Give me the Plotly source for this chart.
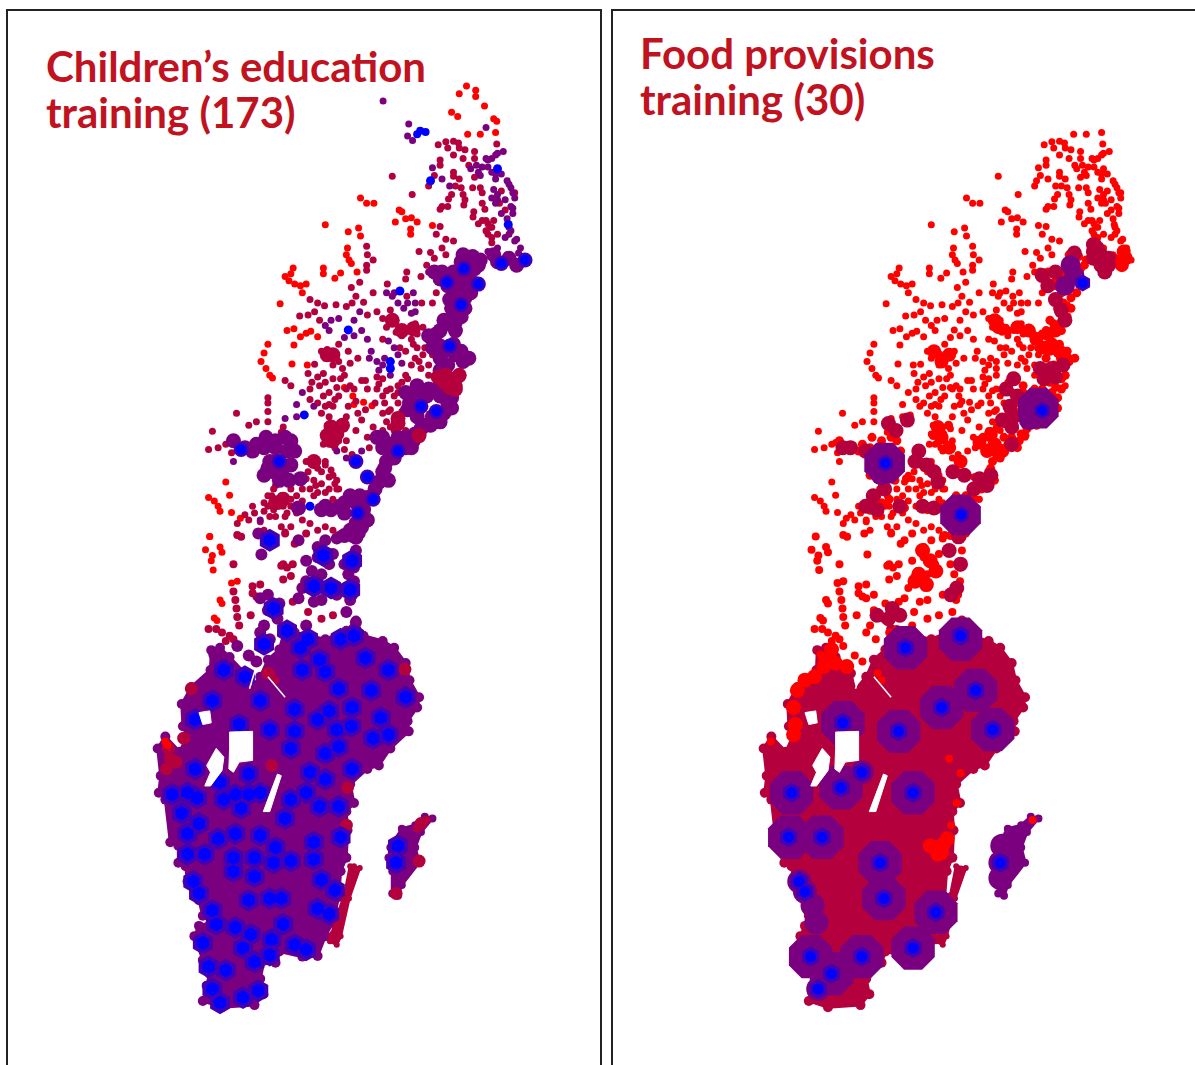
import plotly.graph_objects as go
from plotly.subplots import make_subplots

#all point lists are in the units of the zoomed crops they were read from,
#the sheet tuples below turn crop units back into page pixels (x scale, x shift, y scale, y shift)
EDU_N = (1/2.613, 0, 1/2.904, 0)
EDU_S = (1/2.613, 0, 1/2.93, 530)
FOOD_N = (1/2.635, 600, 1/2.904, 0)
FOOD_S = (1/2.635, 600, 1/2.93, 530)
#same towns, right hand map sits this many pixels along
MAP_SHIFT = 606

RED = '#ff0000'
CRIMSON = '#b4003c'
PURPLE = '#7a0080'
INDIGO = '#4300b4'
BLUE = '#0000ff'

titles_edu = ["Children\u2019s education", "training (173)"]
titles_food = ["Food provisions", "training (30)"]

#outline of the mainland, then Oland, then Gotland (lower crop)
mainland = [(552,352),(575,345),(600,372),(640,420),(650,470),(680,430),(700,380),(730,350),(745,290),
            (770,300),(850,320),(905,295),(930,265),(950,310),(1000,325),(1030,345),(1060,390),(1070,440),
            (1095,490),(1090,520),(1065,560),(1068,590),(1020,640),(990,690),(960,700),(915,745),(925,800),
            (905,825),(908,880),(905,960),(890,1000),(885,1075),(870,1150),(850,1190),(830,1248),(790,1250),
            (730,1235),(720,1268),(690,1262),(680,1315),(688,1360),(665,1392),(580,1398),(530,1380),(540,1335),
            (548,1300),(530,1260),(508,1190),(520,1160),(550,1150),(530,1130),(520,1085),(490,1030),(485,985),
            (466,975),(466,925),(445,915),(432,790),(415,770),(420,720),(412,640),(432,605),(470,650),(490,600),
            (478,575),(475,510),(500,460),(550,410)]
oland = [(940,990),(915,985),(900,1070),(875,1150),(862,1205),(880,1215),(890,1190),(912,1080)]
gotland = [(1130,845),(1110,840),(1085,865),(1050,875),(1020,930),(1015,960),(1025,1000),(1025,1065),
           (1040,1072),(1050,1040),(1095,975),(1085,930),(1100,885)]

#lakes and slits left white
lake_vanern = [(600,592),(660,590),(660,675),(625,680),(610,710),(598,700),(600,640)]
lake_vanern_w = [(565,640),(585,665),(580,705),(550,750),(535,750),(550,710),(540,690)]
lake_vattern = [(725,715),(735,720),(705,825),(688,825)]
lake_small = [(520,535),(548,530),(552,565),(530,570)]
river_a = [(652,465),(668,405)]
river_b = [(700,430),(745,490)]
river_c = [(880,105),(895,140)]

#extra dots only on the left map
far_north_red = [(1219,250),(1200,272),(1243,262),(1243,280),(1266,308),(1180,326),(1196,338),(1290,345),(1298,352)]
far_north_purple = [(1001,293),(1068,360),(1065,395),(1078,408),(1270,370)]
far_north_blue = [(1098,380),(1112,383),(1090,390)]

#settlement dots, coloured for the education map, all red on the food map
dots_red = [(1222,390),(1255,390),(1295,385),(942,575),(958,590),(977,590),(1043,610),(1050,615),(1033,645),
            (1060,635),(1075,632),(1090,645),(1073,665),(1073,680),(1130,655),(850,653),(910,673),(937,662),
            (942,685),(908,720),(905,740),(912,755),(918,765),(766,778),(745,803),(760,795),(755,815),(770,825),
            (785,830),(800,825),(790,850),(845,778),(845,795),(890,793),(875,808),(933,790),(732,882),(750,960),
            (768,955),(785,978),(800,968),(812,962),(768,1002),(830,978),(700,1000),(690,1025),(682,1050),
            (695,1070),(705,1090),(712,1098),(763,1057),(803,1060),(900,1125),(922,1150),(925,1175),(950,1168),
            (972,1178),(545,1445),(560,1455),(570,1470),(575,1485),(600,1438),(590,1400),(605,1488),(628,1505),(548,1558)]
dots_crimson = [(1298,418),(1145,420),(1165,412),(1185,410),(1198,415),(1185,450),(1215,435),(1240,440),(1240,460),
                (1225,480),(1150,465),(1150,480),(1185,500),(1185,512),(1205,545),(1180,565),(1172,578),(1210,565),
                (1212,595),(1155,600),(1150,608),(1235,545),(1255,545),(1260,560),(1238,615),(1236,630),(1267,608),
                (1270,640),(1280,660),(1270,670),(1285,690),(1285,705),(1345,560),(1310,555),(1025,512),(1077,565),
                (1140,680),(1150,658),(958,715),(960,740),(975,755),(958,770),(958,785),(822,1058),(810,870),(830,880),
                (848,888),(878,885),(783,918),(805,915),(822,905),(835,930),(940,820),(918,835),(930,860),(950,878),
                (975,850),(1012,825),(1063,790),(1060,810),(1100,803),(1095,730),(1125,733),(1135,750),(1165,695),
                (1155,720),(1165,740),(1115,770),(1130,795),(1140,850),(1102,880),(1130,880),(1063,860),(960,915),
                (985,905),(1000,925),(1020,900),(1030,930),(1045,950),(1010,950),(1065,960),(1085,940),(1105,950),
                (1115,975),(1090,970),(1050,975),(1035,965),(1075,985),(1000,985),(840,1020),(855,1015),(870,1030),
                (850,1040),(885,1050),(870,1060),(895,1070),(885,1000),(910,1020),(915,1055),(935,1040),(900,1090),
                (805,1085),(815,1110),(835,1120),(850,1110),(860,1140),(880,1125),(845,1150),(810,1130),(745,1105),
                (760,1120),(700,1155),(700,1170),(700,1195),(618,1200),(650,1235),(670,1225),(700,1225),(740,1240),
                (735,1255),(555,1252),(545,1305),(570,1300),(590,1290),(605,1315),(850,1180),(860,1210),(855,1235),
                (880,1240),(900,1245),(870,1265),(885,1280),(860,1290),(905,1210),(945,1220),(930,1250),(1000,1200),
                (1040,1140),(1000,1150),(1010,1225),(1040,1220),(1060,1250),(1020,1240),(960,1270),(965,1300),
                (810,1340),(830,1360),(850,1340),(870,1380),(880,1420),(800,1390),(790,1420),(820,1440),(720,1410),
                (710,1440),(700,1470),(730,1470),(745,1500),(760,1450),(880,1460),(640,1495),(665,1490),(680,1515),
                (735,1530),(745,1545),(810,1520),(830,1540),(880,1555),(1095,1270),(1040,1120),(990,1115),(955,1105),
                (1105,1030),(1120,1060),(1075,1060),(1060,1090),(1060,1020),(1085,1040),(1100,1070),(1065,1100),
                (1000,1100),(985,1130),(1005,1170),(1040,1170),(1050,1195),(1015,1195),(960,1130),(945,1105),(925,1130),
                (930,1165),(910,1180),(870,1180),(885,1150),(1260,640),(1275,650),(1285,660),(1275,680),(715,1420),
                (700,1440),(690,1460),(715,1480),(740,1470),(750,1490),(720,1500),(775,1440),(790,1455),(830,1340),
                (850,1350),(865,1365),(880,1395),(885,1420),(800,1340),(790,1380),(820,1395),(840,1405),(860,1420),
                (810,1420),(830,1430),(920,880),(905,890),(1080,1000),(1045,1010),(1200,1120),(1185,700),
                (830,1095),(845,1085),(870,1100),(890,1100),(905,1130),(875,1160),(860,1175),(915,1120),(850,1260),
                (845,1290),(875,1300),(905,1280),(900,1305),(920,1320),(830,1170),(840,1200),(810,1160),(1010,1135),
                (1030,1150),(1020,1190),(980,1170),(955,1190),(935,1200),(1000,1250),(975,1240),(1030,1250),(820,1350),
                (840,1370),(860,1385),(875,1405),(805,1370),(825,1410),(850,1430),(870,1450),(780,1400),(760,1420),
                (760,1470),(775,1490),(735,1440),(705,1500),(690,1485),(660,1470),(650,1510),(620,1520),(690,1540),
                (760,1530),(790,1510),(850,1530),(870,1540),(1130,1030),(1110,1010),(1090,1010),(1095,1050),(1120,1090),
                (1050,1110),(1020,1130),(985,1095),(1240,515),(1200,520),(1170,600),(1215,580),(1290,640),(1300,680),
                (1250,650),(1260,590),(1305,590),(1320,610),(1210,460),(1200,430),(1170,430),(1135,510),(1120,540),(1190,540)]
dots_purple = [(1130,487),(1155,520),(1175,540),(1255,510),(1270,460),(1295,450),(1315,440),(1260,485),(1295,520),
               (1330,535),(1340,560),(1290,550),(1295,590),(1335,600),(1340,620),(1310,620),(1330,680),(1350,695),
               (1300,720),(1360,720),(1275,730),(1325,740),(865,930),(885,925),(925,930),(940,905),(945,960),(960,985),
               (1065,880),(1075,910),(1085,905),(1015,990),(1030,1010),(1005,1040),(1040,1030),(985,1050),(965,1040),
               (990,1075),(790,1140),(775,1175),(820,1180),(775,1210),(745,1215),(600,1285),(610,1340),(680,1510),
               (880,1310),(905,1330),(945,1310),(1120,790),(1140,790),(1030,850),(1080,850),(1300,445),(1285,460),
               (1275,465),(1245,480),(1230,490),(1250,500),(1275,485),(1285,500),(1295,505),(1310,505),(1325,525),
               (1335,545),(1345,575),(1300,565),(1285,575),(1320,580),(1300,580),(1340,605),(1325,635),(1330,660),
               (1335,670),(1320,690),(1345,700),(1355,735),(1365,745),(1345,775),(1320,760),(1020,1090),(1000,1060),
               (1050,1055),(970,1020),(925,975),(900,980),(860,960),(850,945),(1040,880),(1055,895),(1010,850),(1025,860),
               (1085,880)]
dots_blue = [(1125,525),(1300,490),(1328,652),(910,958),(1045,845),(1020,1050),(795,1205),(810,1470),(975,1450),(1020,1070)]

south_dots_red = [(548,19),(537,58),(575,50),(555,75),(552,90),(580,65),(557,117),(575,205),(580,215),(560,258),(567,265),(605,155),(620,150)]
south_dots_crimson = [(610,180),(615,205),(618,230),(620,255),(625,280),(660,165),(680,160),(660,185),(670,195),(655,250),
                      (545,290),(565,290),(580,300),(590,325),(610,320),(600,310),(610,100),(620,15),(630,20),(740,100),
                      (765,100),(750,110),(740,145),(760,135),(735,105),(800,10),(745,10),(770,40),(840,260),(870,250),
                      (805,240),(765,210),(885,15),(710,420),(720,440)]
south_dots_purple = [(683,72),(675,10),(800,90),(815,120),(840,130),(780,30),(800,150),(700,235),(680,200),(690,280),(680,300),
                     (705,320),(740,300),(760,290),(800,280),(780,200),(650,368),(670,385),(560,365),(620,340),
                     (830,50),(870,70),(900,100),(930,60),(920,20),(880,25),(940,10),(905,240),(915,205),(930,270),(840,205),(820,210),
                     (850,30),(830,80),(860,100),(910,130),(925,110),(925,150),(790,170),(880,190),(920,190),(700,190),(730,215),(725,260)]

#dense parts of the education map, drawn with bigger dots
edu_band_purple = [(1210,740),(1235,745),(1255,755),(1220,765),(1185,790),(1210,830),(1190,850),(1230,850),(1175,870),
                   (1215,865),(1185,910),(1205,920),(1170,940),(1190,960),(1150,960),(1130,985),(1160,1020),(1190,1030),
                   (1210,1050),(1170,1060),(1150,1040),(1090,1120),(1120,1130),(1150,1150),(1170,1170),(1080,1160),
                   (1065,1190),(1090,1210),(1130,1210),(1110,1235),(1080,1280),(1050,1290),(1020,1290),(1000,1270),
                   (1040,1270),(1010,1340),(1000,1370),(690,1300),(720,1300),(750,1310),(720,1340),(700,1360),(740,1360),
                   (730,1395),(760,1350),(640,1300),(610,1280),(930,1460),(900,1490),(930,1520),(950,1480),(900,1460),
                   (850,1470),(1300,760),(1330,750),(1350,770),(1290,740),(1205,760),(1200,800),(1180,810),(1170,830),
                   (1155,790),(1135,790),(1150,810),(1195,830),(1240,780),(1250,770),(1225,800),(1235,820),(1195,880),
                   (1180,895),(1160,930),(1215,895),(1190,935),(1140,970),(1120,975),(1150,1005),(1130,1010),(1185,1000),
                   (1205,1020),(1225,1040),(1150,1075),(1060,1140),(1070,1170),(1090,1140),(1115,1150),(1140,1130),
                   (1165,1140),(1180,1155),(1180,1185),(1160,1200),(1150,1225),(1125,1235),(1100,1245),(1085,1260),
                   (1060,1270),(1075,1300),(1060,1300),(1030,1330),(1020,1320),(1000,1300),(985,1270),(1005,1360),
                   (990,1400),(1015,1395),(980,1420),(960,1445),(940,1440),(915,1440),(890,1470),(865,1480),(960,1510),
                   (945,1530),(915,1540),(930,1560),(900,1555),(780,1475),(840,1480),(670,1290),(660,1310),(695,1270),
                   (720,1280),(745,1270),(760,1280),(770,1310),(705,1340),(690,1380),(715,1370),(755,1395),(785,1390)]
edu_band_crimson = [(1165,1090),(1190,1100),(1145,1095),(1175,1125),(1200,1090),(1160,1110),(1190,1130),(1040,1230),(1050,960),
                    (1080,955),(1025,930),(865,1240),(880,1260),(895,1235),(870,1280),(855,1265),(870,1030),(855,1030),(740,1450),
                    (720,1460),(820,1340),(1095,1265),(1040,1215)]
edu_band_blue = [(1212,780),(1168,820),(1250,825),(1205,885),(1175,1005),(1100,1180),(1140,1195),(1040,1310),(930,1340),
                 (960,1385),(975,1450),(935,1490),(1310,765),(1372,755),(630,1305),(730,1340)]

#blue towns on the south of the education map (lower crop)
edu_south_blue = [(705,30),(845,75),(920,90),(820,165),(865,170),(915,175),(715,230),(750,295),(925,310),(890,320),(805,320),
                  (785,345),(690,335),(555,500),(510,555),(625,570),(705,585),(770,590),(770,525),(680,500),(790,410),(850,415),
                  (835,380),(955,375),(1015,410),(885,465),(970,470),(1060,490),(920,520),(860,530),(830,555),(880,585),(918,575),
                  (995,550),(1015,600),(975,610),(760,640),(850,655),(885,635),(920,700),(810,710),(850,730),(800,770),(760,790),
                  (835,810),(885,810),(890,900),(745,845),(680,895),(720,930),(760,970),(715,975),(665,960),(610,960),(615,890),
                  (570,905),(535,950),(490,950),(490,890),(475,830),(520,860),(450,775),(490,770),(515,785),(575,740),(585,790),
                  (615,775),(650,775),(680,770),(630,815),(650,715),(510,700),(585,410),(640,430),(820,915),(820,965),(665,1015),
                  (610,1000),(505,1030),(520,1065),(840,1025),(875,1055),(650,1085),(705,1080),(735,1080),(830,1110),(860,1125),
                  (555,1115),(565,1155),(615,1165),(655,1185),(740,1155),(710,1200),(635,1225),(705,1245),(770,1215),(800,1230),
                  (665,1265),(530,1210),(545,1280),(590,1290),(555,1345),(575,1385),(635,1370),(675,1350),(1040,925),(1035,975)]
edu_south_crimson = [(440,640),(445,670),(435,700),(460,680),(480,610),(500,465),(710,690),(700,420),(1058,408),(908,755),(905,865),(875,1190),(1035,1065),(1095,970),(1100,860)]
edu_south_red = [(432,620),(438,630)]
edu_oland_crimson = [(925,1000),(918,1030),(908,1060),(925,985)]
edu_gotland_crimson = [(1115,850),(1100,865),(1090,875)]

#food map
food_purple = [(750,1345),(1155,1185),(950,1495)]
food_purple_small = [(1250,800),(1225,830),(1240,770),(1130,1220),(740,1380)]
food_core = [(752,1345),(1165,1192),(952,1495),(1272,822)]
food_crimson = [(1200,790),(1165,800),(1180,830),(1200,870),(1215,900),(1225,930),(1300,710),(1320,740),(1340,770),(1250,735),
                (1330,790),(1300,730),(1310,720),(1300,750),(1320,770),(1340,750),(1190,1070),(1220,1060),(1170,1100),(1200,1095),
                (1160,1070),(1090,1100),(1070,1130),(1080,1180),(1085,1240),(1085,1290),(1060,1220),(1100,1150),(1090,1210),(660,1300),
                (640,1300),(700,1310),(760,1230),(810,1220),(780,1250),(840,1310),(720,1440),(750,1420),(730,1480),(790,1470),
                (860,1350),(880,1370),(890,1400),(960,1380),(1000,1390),(1020,1410),(930,1370),(1030,1380),(985,1420),(700,1470),
                (830,1340),(850,1470),(880,1475)]
food_red = [(1385,750),(1380,730),(1375,770),(1190,1000),(1210,1020),(1180,970),(1150,985),(1230,1045),(1130,960),(1050,950),
            (1000,1285),(1040,1290),(1030,1260),(1060,1310),(1020,1310),(890,1240),(900,1270),(920,1300),(950,1340),(880,1020),
            (1040,930),(1100,950),(1200,960),(1170,1010),(1220,1040),(920,1030),(900,1050)]
#lower crop
food_south_crimson = [(920,60),(950,100),(925,190),(940,170),(945,20),(770,230),(790,250),(730,250),(760,260)]
food_south_red = [(850,60),(870,90),(840,130),(860,160),(885,120),(830,150),(520,470),(510,520),(515,570),(510,600),(540,440),(565,430),
                  (595,380),(590,400),(620,390),(650,400),(610,350),(880,930),(905,920),(890,950),(870,925),(900,945),(915,905)]
food_south_red_small = [(450,620),(920,670),(950,712),(940,800),(925,865),(1140,850)]
food_south_big = [(640,565),(787,590),(805,345),(990,470),(900,520),(1035,585),(635,755),(505,770),(825,770),(500,900),(585,900),
                  (738,975),(748,1080),(885,1120),(825,1225),(555,1250),(690,1250),(610,1300),(950,320)]
food_south_mid = [(690,710),(575,1345),(525,1030),(540,1060),(560,1100),(1060,925),(1055,975),(1055,1020),(570,1150)]
food_south_core = [(640,565),(787,590),(805,345),(950,310),(990,470),(900,520),(1035,585),(635,755),(505,770),(690,710),(825,770),
                   (497,900),(585,900),(738,975),(748,1080),(885,1120),(825,1225),(555,1250),(690,1250),(610,1300),(575,1345),
                   (525,1030),(540,1060),(1055,975)]


def to_page(pts, sheet, shift=0):
    xs = [p[0]*sheet[0]+sheet[1]+shift for p in pts]
    ys = [p[1]*sheet[2]+sheet[3] for p in pts]
    return xs, ys


def add_dots(fig, pts, color, size, col, sheet, shift=0, symbol='circle'):
    xs, ys = to_page(pts, sheet, shift)
    fig.add_trace(go.Scatter(x=xs, y=ys, mode='markers',
                             marker=dict(color=color, size=size, symbol=symbol, line=dict(width=0)),
                             hoverinfo='skip', showlegend=False), row=1, col=col)


def add_poly(fig, pts, color, col, sheet, shift=0, lw=3):
    xs, ys = to_page(pts + pts[:1], sheet, shift)
    fig.add_trace(go.Scatter(x=xs, y=ys, mode='lines', fill='toself', fillcolor=color,
                             line=dict(color=color, width=lw), hoverinfo='skip', showlegend=False), row=1, col=col)


def add_lakes(fig, col, shift=0):
    for lake in [lake_vanern, lake_vanern_w, lake_vattern, lake_small]:
        add_poly(fig, lake, 'white', col, EDU_S, shift, lw=1)
    for r in [river_a, river_b, river_c]:
        xs, ys = to_page(r, EDU_S, shift)
        fig.add_trace(go.Scatter(x=xs, y=ys, mode='lines', line=dict(color='white', width=1.5),
                                 hoverinfo='skip', showlegend=False), row=1, col=col)


fig = make_subplots(rows=1, cols=2)

#left map
add_poly(fig, mainland, PURPLE, 1, EDU_S)
add_dots(fig, mainland, PURPLE, 10, 1, EDU_S)
add_poly(fig, oland, CRIMSON, 1, EDU_S)
add_dots(fig, oland, CRIMSON, 6, 1, EDU_S)
add_poly(fig, gotland, PURPLE, 1, EDU_S)
add_dots(fig, gotland, PURPLE, 8, 1, EDU_S)
for pts, c in [(far_north_red, RED), (far_north_purple, PURPLE), (dots_red, RED), (dots_crimson, CRIMSON), (dots_purple, PURPLE)]:
    add_dots(fig, pts, c, 7, 1, EDU_N)
add_dots(fig, south_dots_red, RED, 7, 1, EDU_S)
add_dots(fig, south_dots_crimson, CRIMSON, 8, 1, EDU_S)
add_dots(fig, south_dots_purple, PURPLE, 12, 1, EDU_S)
add_dots(fig, edu_band_purple, PURPLE, 15, 1, EDU_N)
add_dots(fig, edu_band_crimson, CRIMSON, 15, 1, EDU_N)
add_dots(fig, edu_south_crimson, CRIMSON, 13, 1, EDU_S)
add_dots(fig, edu_south_red, RED, 8, 1, EDU_S)
add_dots(fig, edu_oland_crimson, CRIMSON, 6, 1, EDU_S)
add_dots(fig, edu_gotland_crimson, CRIMSON, 8, 1, EDU_S)
add_dots(fig, edu_band_blue, INDIGO, 15, 1, EDU_N)
add_dots(fig, edu_south_blue, INDIGO, 23, 1, EDU_S, symbol='hexagon')
add_dots(fig, far_north_blue, BLUE, 8, 1, EDU_N)
add_dots(fig, dots_blue, BLUE, 9, 1, EDU_N)
add_dots(fig, edu_band_blue, BLUE, 10, 1, EDU_N)
add_dots(fig, edu_south_blue, BLUE, 14, 1, EDU_S, symbol='hexagon')
add_lakes(fig, 1)

#right map
add_poly(fig, mainland, CRIMSON, 2, EDU_S, MAP_SHIFT)
add_dots(fig, mainland, CRIMSON, 10, 2, EDU_S, MAP_SHIFT)
add_poly(fig, oland, CRIMSON, 2, EDU_S, MAP_SHIFT)
add_dots(fig, oland, CRIMSON, 6, 2, EDU_S, MAP_SHIFT)
add_poly(fig, gotland, PURPLE, 2, EDU_S, MAP_SHIFT)
add_dots(fig, gotland, PURPLE, 8, 2, EDU_S, MAP_SHIFT)
for pts in [dots_red, dots_crimson, dots_purple, dots_blue, edu_band_blue]:
    add_dots(fig, pts, RED, 7, 2, EDU_N, MAP_SHIFT)
for pts in [edu_band_purple, edu_band_crimson]:
    add_dots(fig, pts, RED, 9, 2, EDU_N, MAP_SHIFT)
for pts in [south_dots_red, south_dots_crimson, south_dots_purple]:
    add_dots(fig, pts, RED, 8, 2, EDU_S, MAP_SHIFT)
add_dots(fig, food_red, RED, 14, 2, FOOD_N)
add_dots(fig, food_crimson, CRIMSON, 15, 2, FOOD_N)
add_dots(fig, food_south_crimson, CRIMSON, 15, 2, FOOD_S)
add_dots(fig, food_south_red, RED, 15, 2, FOOD_S)
add_dots(fig, food_south_red_small, RED, 8, 2, FOOD_S)
add_dots(fig, food_purple, PURPLE, 44, 2, FOOD_N, symbol='octagon')
add_dots(fig, food_purple_small, PURPLE, 20, 2, FOOD_N)
add_dots(fig, food_south_big, PURPLE, 47, 2, FOOD_S, symbol='octagon')
add_dots(fig, food_south_mid, PURPLE, 24, 2, FOOD_S)
add_dots(fig, food_core, INDIGO, 17, 2, FOOD_N, symbol='hexagon')
add_dots(fig, food_south_core, INDIGO, 20, 2, FOOD_S, symbol='hexagon')
add_dots(fig, food_core, BLUE, 10, 2, FOOD_N)
add_dots(fig, food_south_core, BLUE, 11, 2, FOOD_S)
add_lakes(fig, 2, MAP_SHIFT)

#frames: top, left and right edges only, the bottom runs off the page
W, H = 1195, 1065
fig.update_layout(width=W, height=H, margin=dict(l=0, r=0, t=0, b=0), plot_bgcolor='white', paper_bgcolor='white',
                  showlegend=False)
fig.update_xaxes(showgrid=False, zeroline=False, showticklabels=False, ticks='', side='top',
                 showline=True, linecolor='#222222', linewidth=2)
fig.update_yaxes(showgrid=False, zeroline=False, showticklabels=False, ticks='', showline=True,
                 linecolor='#222222', linewidth=2)
fig.update_layout(xaxis=dict(domain=[8/W, 600/W], range=[8, 600]),
                  xaxis2=dict(domain=[613/W, 1], range=[613, 1195]),
                  yaxis=dict(domain=[0, 1-11/H], range=[1065, 11], mirror=True),
                  yaxis2=dict(domain=[0, 1-11/H], range=[1065, 11]))

font = dict(family='Lato', size=42, color='#c1121f', weight=700)
for t, yy in zip(titles_edu, [66, 112]):
    fig.add_annotation(text=t, x=46, y=yy, xref='x', yref='y', xanchor='left', yanchor='middle',
                       showarrow=False, font=font, xshift=-2)
for t, yy in zip(titles_food, [53, 99]):
    fig.add_annotation(text=t, x=640, y=yy, xref='x2', yref='y2', xanchor='left', yanchor='middle',
                       showarrow=False, font=font, xshift=-2)

fig.write_html("out.html", post_script="document.body.style.margin='0';", config=dict(displayModeBar=False))
